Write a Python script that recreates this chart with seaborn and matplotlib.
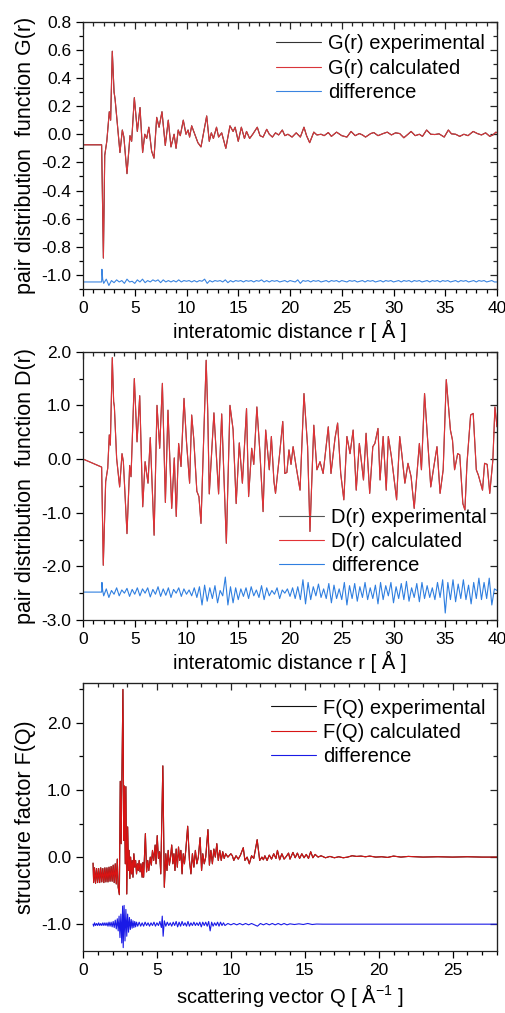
import numpy as np
import pandas as pd
import matplotlib
matplotlib.use("Agg")
import matplotlib.pyplot as plt
from matplotlib.ticker import MultipleLocator, FormatStrFormatter
import seaborn as sns

# ---------------- data: G(r)  (r [Å], G) ----------------
g_points = [
    (0, -0.075), (1.8, -0.075), (1.97, -0.88), (2.1, -0.15), (2.3, -0.05), (2.54, 0.16),
    (2.67, 0.1), (2.83, 0.59), (3.0, 0.3), (3.1, 0.25), (3.57, -0.13), (3.8, 0.03),
    (3.95, -0.02), (4.25, -0.28), (4.54, -0.01), (4.7, -0.05), (4.96, 0.26), (5.25, 0.02),
    (5.51, 0.19), (5.76, -0.13), (5.97, 0.0), (6.15, -0.03), (6.36, 0.05), (6.63, -0.12),
    (6.86, -0.17), (7.12, 0.12), (7.35, 0.05), (7.63, 0.16), (7.95, -0.08), (8.24, 0.1),
    (8.5, -0.09), (8.8, 0.0), (8.99, -0.1), (9.2, 0.03), (9.4, -0.01), (9.69, 0.1),
    (9.95, 0.0), (10.15, 0.03), (10.3, -0.02), (10.5, 0.06), (10.8, 0.0), (11.1, -0.06),
    (11.4, -0.09), (11.95, 0.13), (12.2, -0.05), (12.4, 0.01), (12.6, -0.03), (12.9, 0.05),
    (13.1, -0.02), (13.4, 0.01), (13.8, -0.1), (14.2, 0.06), (14.5, 0.02), (14.7, 0.05),
    (15.0, -0.05), (15.3, 0.05), (15.6, -0.03), (15.8, 0.02), (16.1, -0.03), (16.4, 0.0),
    (16.84, 0.05), (17.1, -0.01), (17.4, -0.02), (17.75, 0.035), (18.0, 0.0), (18.3, -0.02),
    (18.6, 0.01), (18.9, -0.005), (19.26, 0.03), (19.5, -0.01), (19.8, 0.0), (20.2, -0.02),
    (20.6, 0.01), (21.0, -0.02), (21.35, 0.05), (21.6, -0.01), (21.9, -0.06), (22.3, 0.015),
    (22.6, -0.005), (23.0, 0.0), (23.3, -0.01), (23.7, 0.012), (24.0, -0.015), (24.5, 0.015),
    (25.0, -0.01), (25.5, -0.02), (25.9, 0.02), (26.3, -0.01), (26.7, 0.005), (27.0, -0.005),
    (27.3, -0.02), (27.8, 0.005), (28.1, 0.012), (28.5, -0.01), (29.0, 0.005), (29.4, 0.015),
    (29.8, -0.005), (30.2, 0.01), (30.6, 0.005), (31.0, -0.025), (31.4, 0.0), (31.7, 0.02),
    (32.1, -0.01), (32.5, 0.0), (32.8, -0.015), (33.2, 0.03), (33.6, 0.0), (34.0, -0.002),
    (34.4, 0.003), (34.9, -0.02), (35.3, 0.03), (35.6, 0.003), (36.0, 0.0), (36.4, -0.015),
    (36.8, 0.0), (37.2, -0.01), (37.7, 0.02), (38.1, 0.005), (38.5, -0.005), (38.9, 0.01),
    (39.3, -0.015), (39.6, -0.005), (39.9, 0.015), (40.0, 0.01),
]
g_r = [p[0] for p in g_points]
g_exp = [p[1] for p in g_points]
g_calc = [p[1] for p in g_points]

# difference: head points, then one row per 2 Å sampled every 0.25 Å from r = 2.0
g_diff_head = [(0, -1.05), (1.8, -1.05), (1.83, -0.96), (1.9, -1.03)]
g_diff_rows = [
    [-1.06, -1.03, -1.075, -1.04, -1.055, -1.035, -1.05, -1.04],
    [-1.06, -1.03, -1.05, -1.045, -1.06, -1.035, -1.05, -1.03],
    [-1.055, -1.04, -1.05, -1.035, -1.045, -1.035, -1.055, -1.035],
    [-1.05, -1.04, -1.05, -1.04, -1.05, -1.035, -1.05, -1.04],
    [-1.045, -1.04, -1.05, -1.04, -1.05, -1.04, -1.045, -1.03],
    [-1.06, -1.04, -1.05, -1.04, -1.045, -1.04, -1.05, -1.035],
    [-1.055, -1.04, -1.05, -1.04, -1.045, -1.04, -1.05, -1.04],
    [-1.045, -1.04, -1.05, -1.04, -1.045, -1.035, -1.05, -1.04],
    [-1.05, -1.04, -1.045, -1.04, -1.05, -1.045, -1.04, -1.05],
    [-1.04, -1.045, -1.05, -1.035, -1.06, -1.04, -1.045, -1.04],
    [-1.05, -1.04, -1.045, -1.04, -1.05, -1.045, -1.04, -1.05],
    [-1.04, -1.045, -1.04, -1.05, -1.04, -1.045, -1.05, -1.04],
    [-1.045, -1.04, -1.05, -1.045, -1.04, -1.05, -1.04, -1.045],
    [-1.04, -1.05, -1.045, -1.04, -1.05, -1.04, -1.045, -1.04],
    [-1.05, -1.045, -1.04, -1.05, -1.04, -1.045, -1.04, -1.05],
    [-1.04, -1.045, -1.04, -1.05, -1.045, -1.04, -1.05, -1.04],
    [-1.045, -1.04, -1.05, -1.04, -1.045, -1.04, -1.05, -1.045],
    [-1.04, -1.05, -1.04, -1.045, -1.04, -1.05, -1.045, -1.04],
    [-1.05, -1.04, -1.045, -1.04, -1.05, -1.045, -1.04, -1.05],
    [-1.05],
]

# ---------------- data: D(r) ----------------
d_points = [
    (0, 0.0), (1.8, -0.15), (1.96, -1.98), (2.19, -0.42), (2.39, -0.17), (2.54, 0.45),
    (2.64, 0.26), (2.83, 1.89), (2.96, 1.07), (3.03, 0.98), (3.25, 0.01), (3.54, -0.52),
    (3.77, 0.1), (3.9, -0.05), (4.25, -1.39), (4.51, -0.12), (4.64, -0.33), (4.96, 1.5),
    (5.22, 0.32), (5.48, 1.18), (5.77, -0.89), (6.0, -0.05), (6.28, -0.45), (6.5, 0.4),
    (6.87, -1.42), (7.15, 1.0), (7.41, 0.2), (7.67, 1.41), (7.96, -0.81), (8.21, 0.91),
    (8.57, -0.92), (8.82, 0.02), (9.01, -1.07), (9.24, 0.29), (9.47, -0.14), (9.76, 1.13),
    (10.0, 0.32), (10.3, -0.45), (10.5, 0.82), (10.7, 0.38), (11.0, -0.6), (11.2, -0.7),
    (11.4, -1.2), (11.6, 0.04), (11.9, 1.84), (12.05, 0.9), (12.2, -0.65), (12.65, 0.86),
    (13.1, -0.65), (13.4, 0.84), (13.85, -1.57), (14.2, 1.0), (14.5, 0.55), (14.8, -0.83),
    (15.1, 0.3), (15.4, -0.45), (15.8, 0.94), (16.0, -0.7), (16.3, 0.2), (16.5, -0.1),
    (16.8, 0.97), (17.1, 0.1), (17.4, -0.98), (17.65, 0.54), (18.0, -0.2), (18.2, 0.42),
    (18.45, -0.42), (18.6, -0.64), (19.0, 0.1), (19.3, 0.7), (19.5, -0.27), (19.7, -0.25),
    (19.9, 0.17), (20.1, -0.1), (20.3, 0.23), (20.6, -0.15), (20.97, -0.58), (21.35, 1.22),
    (21.7, 0.23), (21.93, -1.35), (22.3, 0.63), (22.6, -0.2), (22.9, -0.05), (23.2, -0.27),
    (23.7, 0.6), (23.96, -0.27), (24.35, 0.39), (24.6, 0.67), (24.9, -0.27), (25.2, -0.76),
    (25.5, 0.42), (25.8, 0.1), (26.1, 0.54), (26.4, -0.58), (26.7, 0.29), (27.1, -0.39),
    (27.35, 0.48), (27.7, -0.64), (28.0, 0.23), (28.2, 0.29), (28.5, 0.57), (28.7, -0.39),
    (29.0, 0.42), (29.3, -0.58), (29.5, 0.42), (29.8, 0.04), (30.3, -0.76), (30.6, 0.42),
    (30.8, 0.1), (31.1, -0.45), (31.4, -0.08), (31.7, -0.33), (32.0, -0.92), (32.5, 0.29),
    (32.7, -0.2), (33.0, 1.22), (33.4, 0.04), (33.6, -0.52), (33.85, -0.2), (34.2, 0.23),
    (34.5, -0.64), (34.8, -0.2), (35.1, 1.48), (35.5, 0.54), (35.7, 0.35), (35.9, -0.2),
    (36.2, 0.1), (36.4, 0.08), (36.7, -0.83), (36.9, -0.95), (37.1, -0.08), (37.45, 0.82),
    (37.7, 0.85), (38.0, -0.2), (38.2, -0.3), (38.6, -0.58), (38.8, -0.08), (39.05, -0.1),
    (39.3, -0.64), (39.6, -0.02), (39.8, 0.97), (40.0, 0.6),
]
d_r = [p[0] for p in d_points]
d_exp = [p[1] for p in d_points]
d_calc = [p[1] for p in d_points]

d_diff_head = [(0, -2.48), (1.8, -2.48), (1.83, -2.3), (1.9, -2.45)]
d_diff_rows = [
    [-2.55, -2.42, -2.58, -2.45, -2.52, -2.4, -2.55, -2.44],
    [-2.5, -2.41, -2.56, -2.43, -2.52, -2.4, -2.55, -2.42],
    [-2.5, -2.4, -2.57, -2.43, -2.52, -2.38, -2.56, -2.42],
    [-2.54, -2.4, -2.58, -2.43, -2.5, -2.4, -2.56, -2.42],
    [-2.52, -2.44, -2.55, -2.4, -2.58, -2.38, -2.72, -2.35],
    [-2.65, -2.4, -2.6, -2.36, -2.68, -2.45, -2.55, -2.2],
    [-2.72, -2.38, -2.68, -2.4, -2.62, -2.42, -2.56, -2.4],
    [-2.6, -2.38, -2.55, -2.44, -2.58, -2.36, -2.62, -2.4],
    [-2.55, -2.45, -2.52, -2.4, -2.6, -2.44, -2.5, -2.42],
    [-2.56, -2.4, -2.6, -2.38, -2.62, -2.25, -2.7, -2.3],
    [-2.62, -2.38, -2.55, -2.33, -2.58, -2.42, -2.6, -2.32],
    [-2.68, -2.35, -2.6, -2.42, -2.62, -2.3, -2.72, -2.36],
    [-2.6, -2.32, -2.65, -2.38, -2.58, -2.3, -2.62, -2.4],
    [-2.6, -2.35, -2.7, -2.3, -2.62, -2.36, -2.55, -2.3],
    [-2.68, -2.38, -2.6, -2.32, -2.62, -2.28, -2.65, -2.4],
    [-2.58, -2.32, -2.66, -2.3, -2.6, -2.36, -2.58, -2.4],
    [-2.62, -2.3, -2.58, -2.25, -2.87, -2.3, -2.62, -2.25],
    [-2.66, -2.33, -2.6, -2.25, -2.62, -2.35, -2.7, -2.3],
    [-2.6, -2.22, -2.62, -2.3, -2.6, -2.22, -2.72, -2.42],
    [-2.45],
]

# ---------------- data: F(Q) ----------------
f_points = [
    (0.68, -0.09), (0.72, -0.38), (0.78, -0.16), (0.85, -0.39), (0.92, -0.17), (0.99, -0.38),
    (1.06, -0.17), (1.13, -0.38), (1.2, -0.16), (1.27, -0.37), (1.34, -0.17), (1.41, -0.38),
    (1.48, -0.16), (1.55, -0.37), (1.62, -0.16), (1.69, -0.37), (1.76, -0.15), (1.83, -0.36),
    (1.9, -0.14), (1.97, -0.36), (2.04, -0.12), (2.11, -0.38), (2.18, -0.1), (2.25, -0.4),
    (2.32, -0.03), (2.38, -0.45), (2.46, -0.56), (2.52, 1.13), (2.58, 0.2), (2.62, 1.0),
    (2.7, 2.5), (2.76, 0.25), (2.8, 1.06), (2.86, -0.1), (2.9, 1.05), (2.96, -0.55),
    (3.02, 0.45), (3.08, -0.2), (3.12, 0.1), (3.17, -0.32), (3.22, 0.0), (3.28, -0.25),
    (3.33, -0.05), (3.38, -0.3), (3.44, 0.05), (3.5, -0.15), (3.56, -0.05), (3.62, -0.25),
    (3.68, -0.1), (3.74, -0.2), (3.8, -0.05), (3.86, -0.22), (3.92, -0.1), (4.0, -0.3),
    (4.05, -0.08), (4.1, -0.3), (4.22, 0.35), (4.3, -0.22), (4.38, -0.05), (4.45, -0.2),
    (4.55, 0.0), (4.62, -0.12), (4.7, 0.1), (4.78, -0.05), (4.88, 0.18), (4.94, -0.1),
    (5.02, 0.32), (5.1, -0.02), (5.18, 0.08), (5.26, -0.25), (5.4, 1.36), (5.5, -0.45),
    (5.6, 0.05), (5.68, -0.2), (5.76, 0.1), (5.84, -0.12), (5.92, 0.0), (6.0, 0.18),
    (6.08, -0.1), (6.15, 0.05), (6.22, -0.2), (6.3, 0.12), (6.38, -0.15), (6.46, 0.15),
    (6.54, -0.05), (6.62, 0.1), (6.7, -0.25), (6.78, 0.05), (6.86, -0.1), (6.95, 0.1),
    (7.08, 0.46), (7.2, -0.05), (7.3, -0.25), (7.4, 0.05), (7.5, -0.15), (7.6, 0.1),
    (7.7, -0.1), (7.8, 0.0), (7.92, 0.29), (8.02, -0.2), (8.1, 0.05), (8.2, -0.1), (8.3, 0.0),
    (8.45, 0.41), (8.55, -0.12), (8.65, 0.1), (8.75, -0.1), (8.85, 0.12), (8.95, 0.0),
    (9.05, 0.2), (9.15, -0.05), (9.25, 0.1), (9.35, -0.05), (9.45, 0.08), (9.55, -0.02),
    (9.65, 0.05), (9.8, 0.0), (10.0, 0.05), (10.1, 0.02), (10.2, -0.05), (10.35, 0.02),
    (10.5, -0.03), (10.65, 0.03), (10.84, 0.14), (10.95, -0.05), (11.1, 0.0), (11.25, -0.1),
    (11.4, 0.02), (11.55, -0.02), (11.78, 0.26), (11.95, -0.05), (12.1, 0.0), (12.2, -0.04),
    (12.3, 0.02), (12.45, -0.05), (12.6, 0.03), (12.75, -0.03), (12.9, 0.05), (13.05, -0.02),
    (13.15, 0.1), (13.3, -0.04), (13.45, 0.05), (13.6, -0.03), (13.75, 0.01), (13.9, 0.06),
    (14.0, -0.03), (14.2, 0.07), (14.35, -0.01), (14.5, 0.06), (14.65, -0.02), (14.8, 0.05),
    (14.95, -0.01), (15.1, 0.04), (15.25, -0.02), (15.4, 0.08), (15.55, -0.01), (15.7, 0.04),
    (15.9, 0.0), (16.1, 0.02), (16.4, -0.01), (16.7, 0.01), (17.0, -0.01), (17.3, 0.005),
    (17.6, -0.01), (17.9, 0.0), (18.2, 0.02), (18.5, 0.01), (18.8, 0.015), (19.1, 0.005),
    (19.4, 0.015), (19.8, 0.0), (20.2, 0.005), (20.6, -0.005), (21.0, 0.015), (21.5, 0.0),
    (22.0, 0.01), (22.5, 0.005), (23.0, 0.0), (24.0, 0.005), (25.0, 0.0), (26.0, 0.005),
    (27.0, 0.0), (28.0, 0.0),
]
f_q = [p[0] for p in f_points]
f_exp = [p[1] for p in f_points]
f_calc = [p[1] for p in f_points]

f_diff_points = [
    (0.68, -1.0), (0.72, -1.03), (0.78, -0.98), (0.85, -1.02), (0.92, -0.99), (0.99, -1.02),
    (1.06, -0.98), (1.13, -1.02), (1.2, -0.99), (1.27, -1.02), (1.34, -0.98), (1.41, -1.02),
    (1.48, -0.98), (1.55, -1.02), (1.62, -0.98), (1.69, -1.03), (1.76, -0.97), (1.83, -1.03),
    (1.9, -0.97), (1.97, -1.04), (2.04, -0.96), (2.11, -1.05), (2.18, -0.94), (2.25, -1.07),
    (2.32, -0.92), (2.38, -1.1), (2.44, -0.88), (2.5, -1.2), (2.56, -0.85), (2.62, -1.28),
    (2.68, -0.73), (2.72, -1.35), (2.78, -0.72), (2.84, -1.25), (2.9, -0.78), (2.96, -1.18),
    (3.02, -0.85), (3.08, -1.12), (3.14, -0.9), (3.2, -1.08), (3.26, -0.93), (3.32, -1.06),
    (3.38, -0.95), (3.44, -1.05), (3.5, -0.96), (3.56, -1.04), (3.62, -0.97), (3.7, -1.03),
    (3.8, -0.97), (3.9, -1.03), (4.0, -0.98), (4.1, -1.03), (4.2, -0.97), (4.3, -1.02),
    (4.4, -0.98), (4.5, -1.03), (4.6, -0.98), (4.7, -1.02), (4.8, -0.97), (4.9, -1.03),
    (5.0, -0.98), (5.1, -1.02), (5.2, -0.96), (5.3, -1.05), (5.36, -0.88), (5.42, -1.18),
    (5.5, -0.95), (5.6, -1.03), (5.7, -0.97), (5.8, -1.02), (5.9, -0.98), (6.0, -1.03),
    (6.1, -0.97), (6.2, -1.02), (6.3, -0.96), (6.4, -1.04), (6.5, -0.97), (6.6, -1.03),
    (6.7, -0.96), (6.8, -1.02), (6.9, -0.98), (7.0, -1.03), (7.1, -0.96), (7.2, -1.03),
    (7.3, -0.98), (7.4, -1.02), (7.5, -0.97), (7.6, -1.02), (7.7, -0.98), (7.8, -1.02),
    (7.9, -0.97), (8.0, -1.04), (8.1, -0.97), (8.2, -1.02), (8.3, -0.97), (8.4, -1.03),
    (8.5, -0.96), (8.6, -1.1), (8.7, -0.97), (8.8, -1.03), (8.9, -0.98), (9.0, -1.02),
    (9.1, -0.97), (9.2, -1.03), (9.3, -0.97), (9.4, -1.02), (9.5, -0.98), (9.6, -1.02),
    (9.8, -0.99), (10.0, -1.01), (10.2, -0.99), (10.4, -1.01), (10.6, -0.99), (10.8, -1.01),
    (11.0, -0.99), (11.2, -1.01), (11.4, -0.99), (11.6, -1.01), (11.8, -1.03), (12.0, -0.99),
    (12.2, -1.01), (12.4, -0.99), (12.6, -1.01), (12.8, -0.99), (13.0, -1.01), (13.2, -0.99),
    (13.4, -1.01), (13.6, -0.99), (13.8, -1.01), (14.0, -0.995), (14.3, -1.005),
    (14.6, -0.995), (14.9, -1.005), (15.2, -0.99), (15.5, -1.005), (15.8, -0.998),
    (16.2, -1.0), (17.0, -1.0), (18.0, -1.0), (20.0, -1.0), (24.0, -1.0), (28.0, -1.0),
]
f_diff_q = [p[0] for p in f_diff_points]
f_diff = [p[1] for p in f_diff_points]


def diff_series(head, rows, start=2.0, step=0.25):
    xs = [h[0] for h in head]
    ys = [h[1] for h in head]
    flat = [v for row in rows for v in row]
    xs += [round(start + step * i, 3) for i in range(len(flat))]
    ys += flat
    return xs, ys


g_diff_r, g_diff = diff_series(g_diff_head, g_diff_rows)
d_diff_r, d_diff = diff_series(d_diff_head, d_diff_rows)

# ---------------- style ----------------
sns.set_style("ticks")
plt.rcParams["font.family"] = ["Liberation Sans", "DejaVu Sans"]
plt.rcParams["axes.unicode_minus"] = False
plt.rcParams["mathtext.default"] = "regular"
plt.rcParams["text.color"] = "black"
plt.rcParams["axes.labelcolor"] = "black"

fig = plt.figure(figsize=(5.06, 10.13), dpi=100)
W, H = 506, 1013


def add_axes(top, bottom, left=83, right=497):
    return fig.add_axes([left / W, 1 - bottom / H, (right - left) / W, (bottom - top) / H])


def style(ax, xmaj, xmin, ymaj, ymin, yfmt):
    ax.xaxis.set_major_locator(MultipleLocator(xmaj))
    ax.xaxis.set_minor_locator(MultipleLocator(xmin))
    ax.yaxis.set_major_locator(MultipleLocator(ymaj))
    ax.yaxis.set_minor_locator(MultipleLocator(ymin))
    ax.yaxis.set_major_formatter(FormatStrFormatter(yfmt))
    ax.tick_params(which="both", direction="out", top=False, right=False,
                   labelsize=12.5, colors="black", width=0.9)
    ax.tick_params(which="major", length=5)
    ax.tick_params(which="minor", length=3)
    for s in ax.spines.values():
        s.set_visible(True)
        s.set_linewidth(0.9)
        s.set_color("#222222")
    secx = ax.secondary_xaxis("top")
    secx.xaxis.set_major_locator(MultipleLocator(xmaj))
    secx.xaxis.set_minor_locator(MultipleLocator(xmin))
    secx.tick_params(axis="x", which="both", direction="in", labeltop=False, width=0.9)
    secx.tick_params(axis="x", which="major", length=5)
    secx.tick_params(axis="x", which="minor", length=3)
    secy = ax.secondary_yaxis("right")
    secy.yaxis.set_major_locator(MultipleLocator(ymaj))
    secy.yaxis.set_minor_locator(MultipleLocator(ymin))
    secy.tick_params(axis="y", which="both", direction="in", labelright=False, width=0.9)
    secy.tick_params(axis="y", which="major", length=5)
    secy.tick_params(axis="y", which="minor", length=3)


def draw(ax, x1, y_exp, y_calc, x2, y_diff, names, cols, lw=0.8):
    sns.lineplot(x=x1, y=y_exp, ax=ax, color=cols[0], lw=lw, sort=False, estimator=None,
                 label=names[0])
    sns.lineplot(x=x1, y=y_calc, ax=ax, color=cols[1], lw=lw, sort=False, estimator=None,
                 label=names[1])
    sns.lineplot(x=x2, y=y_diff, ax=ax, color=cols[2], lw=lw, sort=False, estimator=None,
                 label=names[2])


leg_kw = dict(loc="upper left", frameon=False, fontsize=14.5, handlelength=2.25,
              handletextpad=0.35, labelspacing=0.27, borderpad=0, borderaxespad=0,
              labelcolor="black")

# Panel 1: G(r)
ax1 = add_axes(21.7, 289)
draw(ax1, g_r, g_exp, g_calc, g_diff_r, g_diff,
     ["G(r) experimental", "G(r) calculated", "difference"],
     ["#333333", "#d9363a", "#3a84e0"])
ax1.set_xlim(0, 40)
ax1.set_ylim(-1.1, 0.8)
style(ax1, 5, 1, 0.2, 0.1, "%.1f")
ax1.set_xlabel("interatomic distance r [ Å ]", fontsize=14.5, labelpad=3)
ax1.set_ylabel("pair distribution  function G(r)", fontsize=15.5, labelpad=4)
ax1.legend(bbox_to_anchor=(0.466, 0.953), **leg_kw)

# Panel 2: D(r)
ax2 = add_axes(351.7, 620)
draw(ax2, d_r, d_exp, d_calc, d_diff_r, d_diff,
     ["D(r) experimental", "D(r) calculated", "difference"],
     ["#555555", "#e23236", "#2f7fe0"])
ax2.set_xlim(0, 40)
ax2.set_ylim(-3.0, 2.0)
style(ax2, 5, 1, 1.0, 0.5, "%.1f")
ax2.set_xlabel("interatomic distance r [ Å ]", fontsize=14.5, labelpad=3)
ax2.set_ylabel("pair distribution  function D(r)", fontsize=15.5, labelpad=4)
ax2.legend(bbox_to_anchor=(0.473, 0.419), **leg_kw)

# Panel 3: F(Q)
ax3 = add_axes(682.7, 951)
draw(ax3, f_q, f_exp, f_calc, f_diff_q, f_diff,
     ["F(Q) experimental", "F(Q) calculated", "difference"],
     ["#111111", "#d81414", "#1a1ae6"])
ax3.set_xlim(0, 28)
ax3.set_ylim(-1.4, 2.6)
style(ax3, 5, 1, 1.0, 0.5, "%.1f")
ax3.set_xlabel("scattering vector Q [ Å$^{-1}$ ]", fontsize=14.5, labelpad=3)
ax3.set_ylabel("structure factor F(Q)", fontsize=15.5, labelpad=4)
ax3.legend(bbox_to_anchor=(0.454, 0.941), **leg_kw)

fig.savefig("out.png", dpi=100)
